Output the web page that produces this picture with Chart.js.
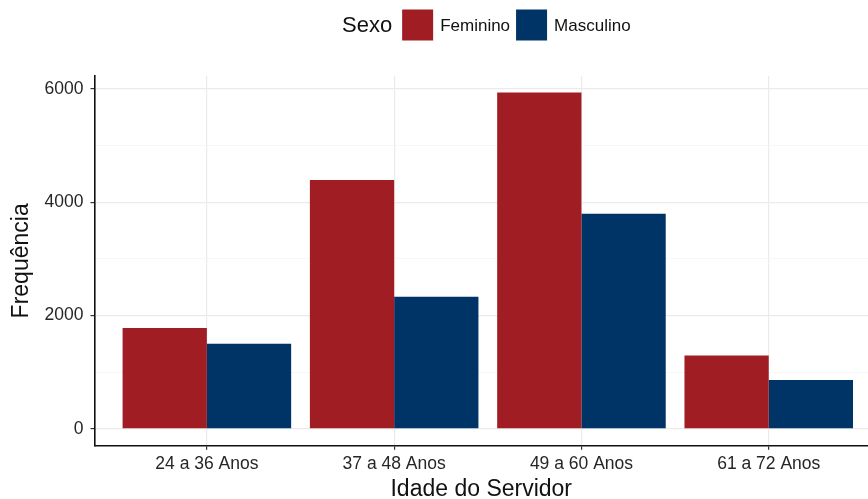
<!DOCTYPE html>
<html>
<head>
<meta charset="utf-8">
<script src="https://cdn.jsdelivr.net/npm/chart.js@4.4.1/dist/chart.umd.min.js"></script>
<style>
  html, body { margin: 0; padding: 0; background: #ffffff; }
  #wrap { width: 868px; height: 499px; }
</style>
</head>
<body>
<div id="wrap"><canvas id="c" width="868" height="499"></canvas></div>
<script>
// ---- data ----
const categories = ["24 a 36 Anos", "37 a 48 Anos", "49 a 60 Anos", "61 a 72 Anos"];
const categoryPositions = [1, 2, 3, 4];
const feminino = [1781, 4390, 5936, 1293];
const masculino = [1504, 2333, 3796, 864];
const seriesNames = ["Feminino", "Masculino"];
const yTicks = [0, 1000, 2000, 3000, 4000, 5000, 6000];
const yLabeledTicks = [0, 2000, 4000, 6000];
const legendTitle = "Sexo";
const xTitle = "Idade do Servidor";
const yTitle = "Frequência";

const FONT = '"Liberation Sans", Arial, sans-serif';
const colors = ["#9f1d23", "#013466"];

const legendPlugin = {
  id: 'inlineLegend',
  afterDraw(chart) {
    const ctx = chart.ctx;
    ctx.save();
    ctx.textBaseline = 'middle';
    ctx.textAlign = 'left';
    const cy = 25;
    let x = 342;
    ctx.fillStyle = '#111';
    ctx.font = '22px ' + FONT;
    ctx.fillText(legendTitle, x, cy + 1);
    x += ctx.measureText(legendTitle).width + 10;
    chart.data.datasets.forEach((ds) => {
      const bs = 31;
      ctx.fillStyle = ds.backgroundColor;
      ctx.fillRect(x, cy - bs / 2, bs, bs);
      x += bs + 7;
      ctx.fillStyle = '#111';
      ctx.font = '17px ' + FONT;
      ctx.fillText(ds.label, x, cy + 1);
      x += ctx.measureText(ds.label).width + 6;
    });
    ctx.restore();
  }
};

const makeData = (vals) => vals.map((v, i) => ({ x: categoryPositions[i], y: v }));

new Chart(document.getElementById('c'), {
  type: 'bar',
  data: {
    datasets: [
      { label: seriesNames[0], data: makeData(feminino), backgroundColor: colors[0], borderWidth: 0 },
      { label: seriesNames[1], data: makeData(masculino), backgroundColor: colors[1], borderWidth: 0 }
    ]
  },
  plugins: [legendPlugin],
  options: {
    responsive: false,
    animation: false,
    devicePixelRatio: 1,
    categoryPercentage: 0.9,
    barPercentage: 1.0,
    layout: { padding: { top: 76, left: 0, right: 0, bottom: 0 } },
    plugins: { legend: { display: false }, tooltip: { enabled: false } },
    scales: {
      x: {
        type: 'linear',
        min: 0.4,
        max: 4.53,
        offset: false,
        afterBuildTicks: (axis) => { axis.ticks = categoryPositions.map(v => ({ value: v })); },
        afterFit: (axis) => { axis.height = 53.3; },
        ticks: {
          callback: (v) => categories[categoryPositions.indexOf(v)],
          color: '#262626',
          font: { family: FONT, size: 17.5 },
          padding: 4,
          maxRotation: 0,
          autoSkip: false
        },
        grid: { offset: false, color: '#ebebeb', lineWidth: 1.2, tickColor: '#333', tickLength: 4 },
        border: { display: true, color: '#111', width: 1.6 },
        title: {
          display: true, text: xTitle, color: '#111',
          font: { family: FONT, size: 23, lineHeight: 0.8 },
          padding: { top: 0, bottom: 0 }
        }
      },
      y: {
        min: -296.5,
        max: 6226.5,
        afterBuildTicks: (axis) => { axis.ticks = yTicks.map(v => ({ value: v })); },
        afterFit: (axis) => { axis.width = 94.5; },
        ticks: {
          callback: (v) => yLabeledTicks.includes(v) ? String(v) : '',
          color: '#262626',
          font: { family: FONT, size: 17.5 },
          padding: 7
        },
        grid: {
          color: (c) => (c.tick && yLabeledTicks.includes(c.tick.value)) ? '#ebebeb' : '#f3f3f3',
          lineWidth: (c) => (c.tick && yLabeledTicks.includes(c.tick.value)) ? 1.2 : 0.7,
          tickColor: (c) => (c.tick && yLabeledTicks.includes(c.tick.value)) ? '#333' : 'rgba(0,0,0,0)',
          tickLength: 4
        },
        border: { display: true, color: '#111', width: 1.6 },
        title: {
          display: true, text: yTitle, color: '#111',
          font: { family: FONT, size: 23 },
          padding: { top: 8, bottom: 0 }
        }
      }
    }
  }
});
</script>
</body>
</html>
